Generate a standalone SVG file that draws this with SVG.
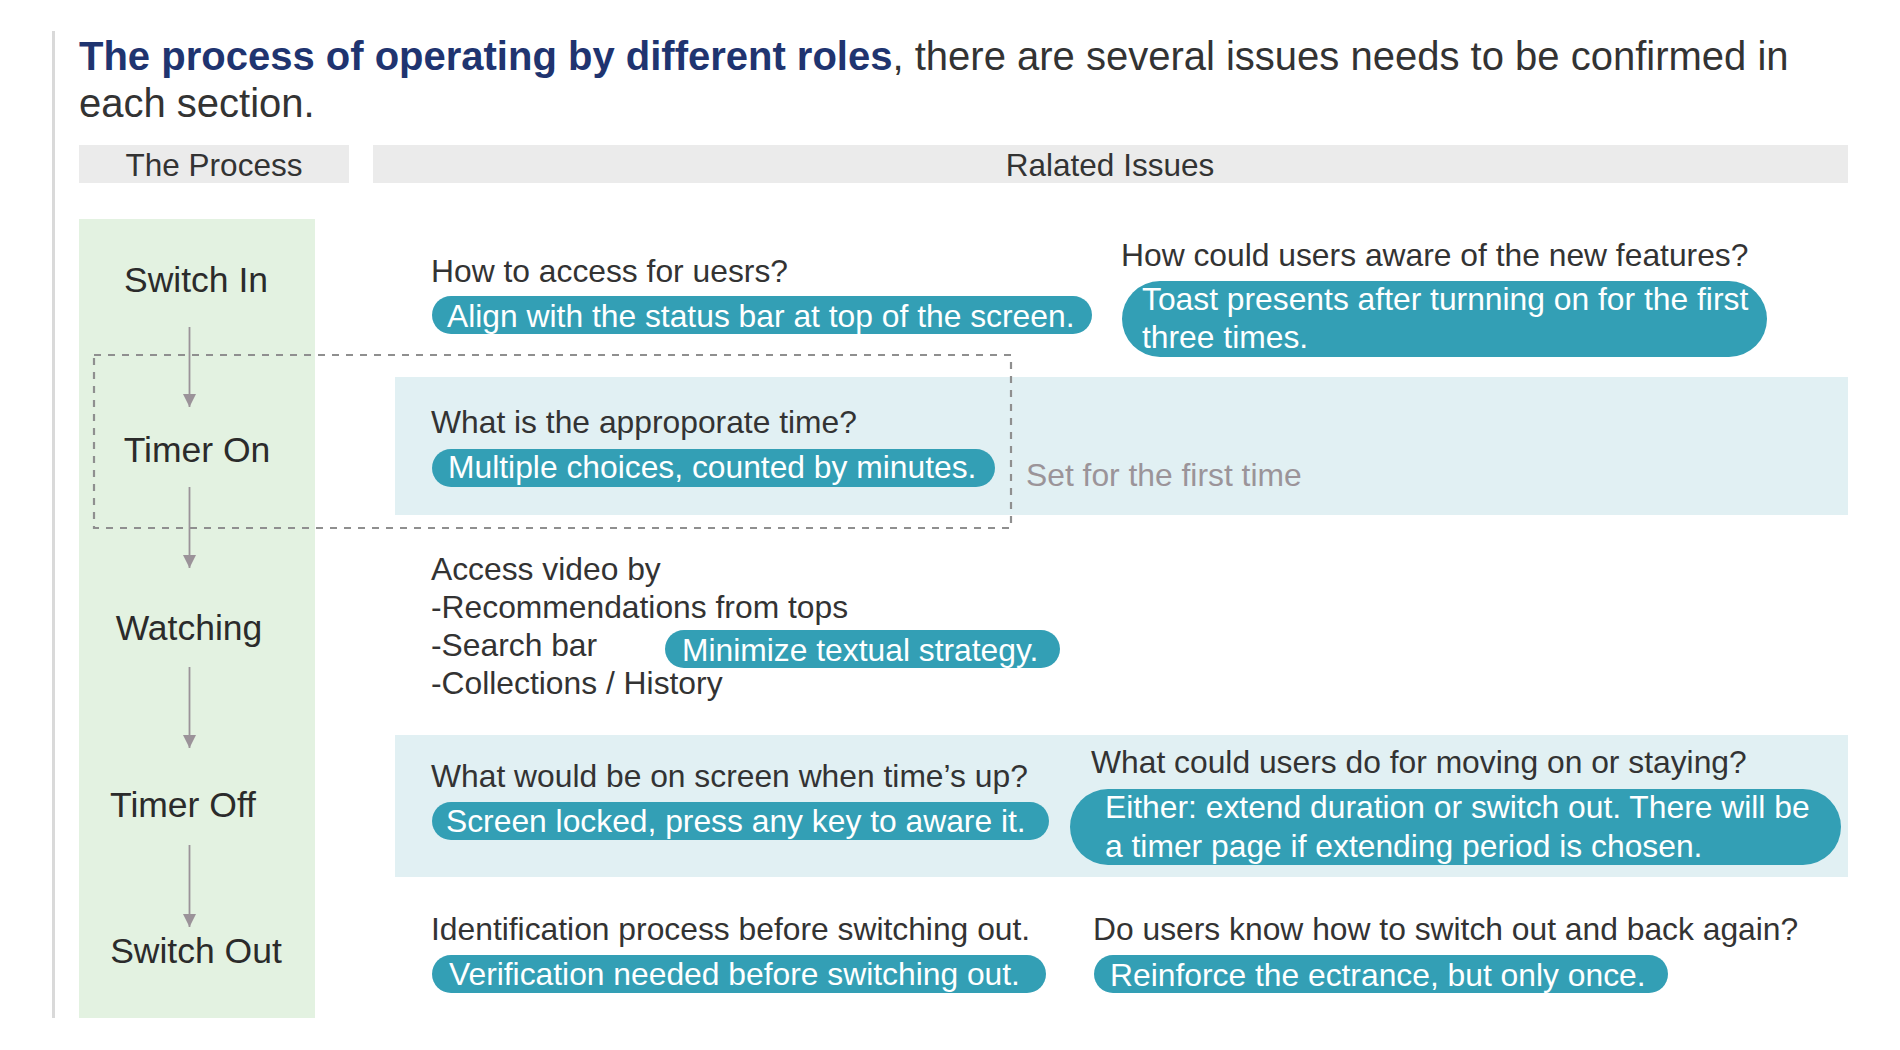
<svg xmlns="http://www.w3.org/2000/svg" width="1900" height="1050" viewBox="0 0 1900 1050">
  <defs>
    <style>
      text { font-family: "Liberation Sans", Arial, Helvetica, sans-serif; fill: #333333; }
      .title { font-size: 40px; }
      .title-b { font-weight: bold; fill: #1f3470; }
      .hdr { font-size: 31.5px; fill: #333333; }
      .node { font-size: 35.5px; fill: #2b2b2b; }
      .q { font-size: 31.8px; fill: #333333; }
      .ans { font-size: 31.8px; fill: #ffffff; }
      .note { font-size: 31.8px; fill: #9b9499; }
      .pill { fill: #339fb5; }
      .band { fill: #e1f0f3; }
      .hdrbar { fill: #ebebeb; }
      .conn { stroke: #9b9399; stroke-width: 1.8; fill: none; }
    </style>
    <marker id="arrow" markerUnits="userSpaceOnUse" markerWidth="14" markerHeight="14" refX="13" refY="6.5" orient="auto" viewBox="0 0 14 14">
      <path d="M0,0 L13,6.5 L0,13 Z" fill="#9b9399"/>
    </marker>
  </defs>

  <rect width="1900" height="1050" fill="#ffffff"/>

  <!-- left rule -->
  <rect x="52" y="31" width="3" height="987" fill="#d9d9d9"/>

  <!-- title -->
  <g id="title">
    <text class="title" x="79" y="70"><tspan class="title-b">The process of operating by different roles</tspan>, there are several issues needs to be confirmed in</text>
    <text class="title" x="79" y="117">each section.</text>
  </g>

  <!-- headers -->
  <g id="header-process">
    <rect class="hdrbar" x="79" y="145" width="270" height="38"/>
    <text class="hdr" x="214" y="176" text-anchor="middle">The Process</text>
  </g>
  <g id="header-issues">
    <rect class="hdrbar" x="373" y="145" width="1475" height="38"/>
    <text class="hdr" x="1110" y="176" text-anchor="middle">Ralated Issues</text>
  </g>

  <!-- bands -->
  <rect class="band" x="395" y="377" width="1453" height="138"/>
  <rect class="band" x="395" y="735" width="1453" height="142"/>

  <!-- process column -->
  <rect x="79" y="219" width="236" height="799" fill="#e3f2e1"/>

  <!-- dashed highlight -->
  <rect id="first-time-box" x="94" y="355" width="917" height="173" fill="none" stroke="#8f8f8f" stroke-width="2.2" stroke-dasharray="7,7"/>

  <!-- connectors -->
  <g id="connectors">
    <line class="conn" x1="189.5" y1="327" x2="189.5" y2="407" marker-end="url(#arrow)"/>
    <line class="conn" x1="189.5" y1="487" x2="189.5" y2="568" marker-end="url(#arrow)"/>
    <line class="conn" x1="189.5" y1="667" x2="189.5" y2="748" marker-end="url(#arrow)"/>
    <line class="conn" x1="189.5" y1="845" x2="189.5" y2="927" marker-end="url(#arrow)"/>
  </g>

  <!-- process nodes -->
  <g id="node-switch-in"><text class="node" x="196" y="292" text-anchor="middle">Switch In</text></g>
  <g id="node-timer-on"><text class="node" x="197" y="462" text-anchor="middle">Timer On</text></g>
  <g id="node-watching"><text class="node" x="189" y="640" text-anchor="middle">Watching</text></g>
  <g id="node-timer-off"><text class="node" x="183" y="817" text-anchor="middle">Timer Off</text></g>
  <g id="node-switch-out"><text class="node" x="196" y="963" text-anchor="middle">Switch Out</text></g>

  <!-- Switch In issues -->
  <g id="issue-access">
    <text class="q" x="431" y="282">How to access for uesrs?</text>
    <rect class="pill" x="432" y="296" width="660" height="38" rx="19"/>
    <text class="ans" x="447" y="327">Align with the status bar at top of the screen.</text>
  </g>
  <g id="issue-aware">
    <text class="q" x="1121" y="266">How could users aware of the new features?</text>
    <rect class="pill" x="1122" y="281" width="645" height="76" rx="38"/>
    <text class="ans" x="1142" y="310">Toast presents after turnning on for the first</text>
    <text class="ans" x="1142" y="348">three times.</text>
  </g>

  <!-- Timer On issues -->
  <g id="issue-time">
    <text class="q" x="431" y="433">What is the approporate time?</text>
    <rect class="pill" x="432" y="449" width="563" height="38" rx="19"/>
    <text class="ans" x="448" y="478">Multiple choices, counted by minutes.</text>
  </g>
  <g id="note-first-time">
    <text class="note" x="1026" y="486">Set for the first time</text>
  </g>

  <!-- Watching issues -->
  <g id="issue-access-video">
    <text class="q" x="431" y="580">Access video by</text>
    <text class="q" x="431" y="618">-Recommendations from tops</text>
    <text class="q" x="431" y="656">-Search bar</text>
    <text class="q" x="431" y="694">-Collections / History</text>
    <rect class="pill" x="665" y="630" width="395" height="38" rx="19"/>
    <text class="ans" x="682" y="661">Minimize textual strategy.</text>
  </g>

  <!-- Timer Off issues -->
  <g id="issue-screen">
    <text class="q" x="431" y="787">What would be on screen when time’s up?</text>
    <rect class="pill" x="432" y="802" width="617" height="38" rx="19"/>
    <text class="ans" x="446" y="832">Screen locked, press any key to aware it.</text>
  </g>
  <g id="issue-moving-on">
    <text class="q" x="1091" y="773">What could users do for moving on or staying?</text>
    <rect class="pill" x="1070" y="789" width="771" height="76" rx="38"/>
    <text class="ans" x="1105" y="818">Either: extend duration or switch out. There will be</text>
    <text class="ans" x="1105" y="857">a timer page if extending period is chosen.</text>
  </g>

  <!-- Switch Out issues -->
  <g id="issue-identification">
    <text class="q" x="431" y="940">Identification process before switching out.</text>
    <rect class="pill" x="432" y="955" width="614" height="38" rx="19"/>
    <text class="ans" x="449" y="985">Verification needed before switching out.</text>
  </g>
  <g id="issue-switch-back">
    <text class="q" x="1093" y="940">Do users know how to switch out and back again?</text>
    <rect class="pill" x="1094" y="955" width="574" height="38" rx="19"/>
    <text class="ans" x="1110" y="986">Reinforce the ectrance, but only once.</text>
  </g>
</svg>
